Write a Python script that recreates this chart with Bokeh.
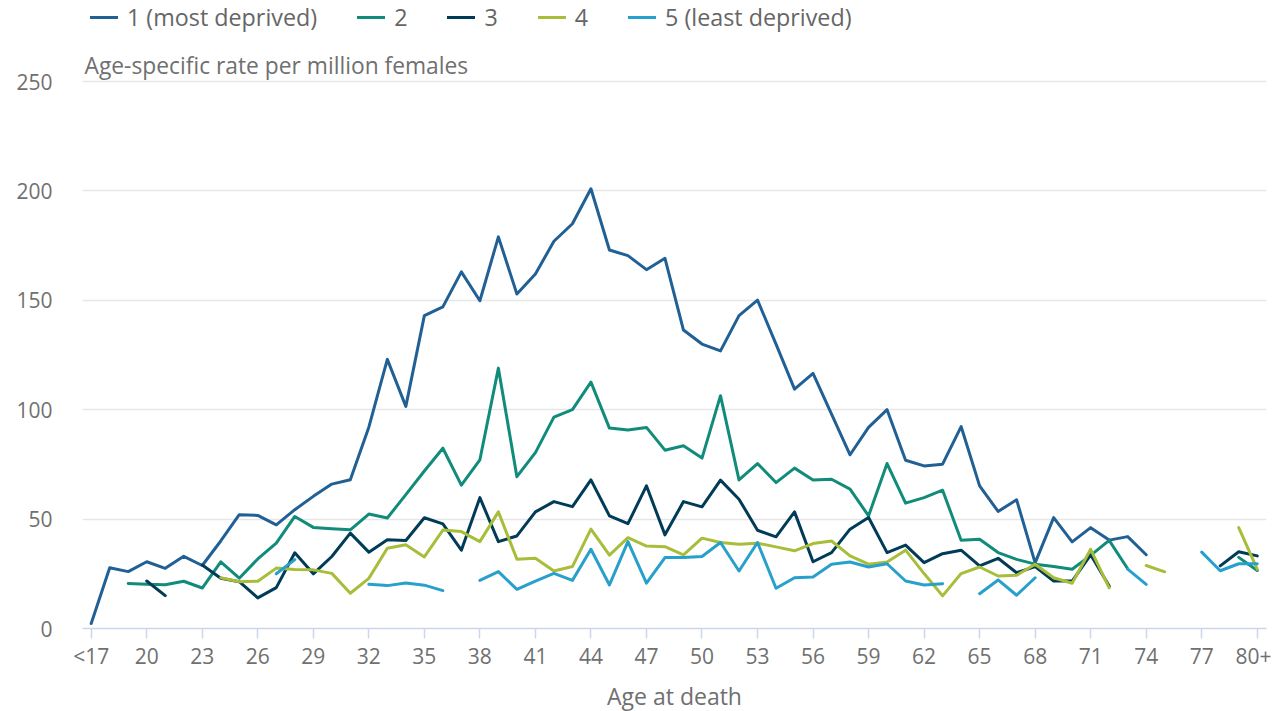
from bokeh.plotting import figure
from bokeh.models import Range1d, FixedTicker, Legend, LegendItem, Label
from bokeh.embed import file_html
from bokeh.resources import INLINE

nan = float("nan")

# Age at death categories
categories = ["<17", "18", "19", "20", "21", "22", "23", "24", "25", "26",
              "27", "28", "29", "30", "31", "32", "33", "34", "35", "36",
              "37", "38", "39", "40", "41", "42", "43", "44", "45", "46",
              "47", "48", "49", "50", "51", "52", "53", "54", "55", "56",
              "57", "58", "59", "60", "61", "62", "63", "64", "65", "66",
              "67", "68", "69", "70", "71", "72", "73", "74", "75", "76",
              "77", "78", "79", "80+"]

tick_labels = ["<17", "20", "23", "26", "29", "32", "35", "38", "41", "44",
               "47", "50", "53", "56", "59", "62", "65", "68", "71", "74",
               "77", "80+"]

y_ticks = [0, 50, 100, 150, 200, 250]

series_names = ["1 (most deprived)", "2", "3", "4", "5 (least deprived)"]
series_colors = ["#206095", "#118c7b", "#003c57", "#a8bd3a", "#27a0cc"]

# Age-specific rate per million females, by deprivation quintile
rate_q1 = [2.3, 27.8, 26.0, 30.5, 27.5, 33.0, 28.8, 40.0, 52.0, 51.7,
           47.4, 54.3, 60.4, 66.0, 68.0, 92.0, 123.0, 101.5, 143.0, 147.0,
           163.0, 149.8, 179.0, 152.9, 162.0, 177.0, 185.0, 201.0, 173.0, 170.4,
           164.0, 169.2, 136.4, 130.0, 126.9, 143.0, 150.1, 130.0, 109.4, 116.6,
           98.0, 79.4, 91.9, 100.0, 76.9, 74.3, 75.1, 92.3, 65.2, 53.5,
           58.8, 30.0, 50.7, 39.6, 46.1, 40.4, 42.0, 33.7, nan, nan,
           nan, nan, nan, nan]

rate_q2 = [nan, nan, 20.6, 20.2, 20.0, 21.6, 18.5, 30.5, 23.0, 31.8,
           39.0, 51.2, 46.2, 45.6, 45.1, 52.3, 50.5, 61.2, 72.0, 82.4,
           65.5, 77.1, 119.0, 69.4, 80.4, 96.6, 100.0, 112.6, 91.6, 90.7,
           91.9, 81.5, 83.5, 77.9, 106.4, 67.9, 75.4, 66.7, 73.3, 67.9,
           68.2, 63.7, 51.5, 75.4, 57.3, 59.8, 63.2, 40.3, 40.8, 34.7,
           31.6, 29.4, 28.3, 27.1, 33.4, 40.3, 27.3, nan, nan, nan,
           nan, nan, 32.5, 26.5]

rate_q3 = [nan, nan, nan, 21.7, 15.0, nan, 29.0, 23.0, 21.4, 14.0,
           18.7, 34.6, 25.0, 32.9, 43.6, 34.9, 40.6, 40.2, 50.6, 47.8,
           35.8, 59.8, 39.7, 42.3, 53.3, 58.0, 55.7, 67.9, 51.5, 47.9,
           65.2, 42.8, 58.0, 55.6, 67.8, 59.1, 44.9, 41.9, 53.3, 30.5,
           34.7, 45.4, 50.7, 34.7, 38.1, 30.1, 34.2, 35.8, 28.6, 32.1,
           25.5, 28.3, 21.7, 21.7, 33.7, 19.4, nan, nan, nan, nan,
           nan, 28.6, 35.1, 33.2]

rate_q4 = [nan, nan, nan, nan, nan, nan, nan, 23.2, 21.4, 21.6,
           27.6, 27.0, 26.8, 25.2, 16.1, 22.9, 36.7, 38.3, 32.7, 45.0,
           44.3, 39.7, 53.3, 31.7, 32.1, 26.3, 28.3, 45.4, 33.5, 41.5,
           37.7, 37.4, 33.6, 41.3, 39.3, 38.5, 39.0, 37.3, 35.5, 38.8,
           40.0, 33.2, 29.4, 30.4, 35.8, 25.1, 14.9, 25.1, 28.1, 24.0,
           24.3, 29.4, 23.2, 20.7, 36.2, 18.6, nan, 28.8, 25.9, nan,
           nan, nan, 46.1, 27.1]

rate_q5 = [nan, nan, nan, nan, nan, nan, nan, nan, nan, nan,
           25.0, 31.5, nan, nan, nan, 20.2, 19.6, 20.8, 19.8, 17.3,
           nan, 22.0, 26.0, 17.9, 21.7, 25.2, 22.0, 36.2, 19.9, 39.7,
           20.7, 32.4, 32.4, 32.9, 39.3, 26.3, 39.3, 18.4, 23.2, 23.5,
           29.4, 30.4, 28.1, 29.6, 21.7, 19.9, 20.5, nan, 15.9, 22.2,
           15.2, 23.2, nan, nan, nan, nan, 27.1, 20.2, nan, nan,
           34.9, 26.4, 29.6, 29.6]

series_values = [rate_q1, rate_q2, rate_q3, rate_q4, rate_q5]

x = list(range(len(categories)))

FONT = "Open Sans"
TEXT = "#707070"

FRAME_H = 628
PX_PER_UNIT = 547 / 250.0

p = figure(frame_width=1184, frame_height=FRAME_H,
           x_range=Range1d(-0.47, len(categories) - 0.5),
           y_range=Range1d(0, FRAME_H / PX_PER_UNIT),
           output_backend="svg", toolbar_location=None, title=None,
           min_border_left=82, min_border_top=0,
           min_border_right=5, min_border_bottom=0)
p.outline_line_color = None
p.background_fill_color = "white"
p.border_fill_color = "white"

items = []
for name, vals, col in zip(series_names, series_values, series_colors):
    r = p.line(x, vals, line_color=col, line_width=3,
               line_join="round", line_cap="round")
    items.append(LegendItem(label=name, renderers=[r]))

legend = Legend(items=items, orientation="horizontal", location=(8, 595),
                label_text_font=FONT, label_text_font_size="23.3px",
                label_text_color="#666666",
                glyph_width=28, glyph_height=24, label_height=24,
                label_width=0,
                label_standoff=9, spacing=40, padding=0, margin=0,
                border_line_color=None, background_fill_alpha=0)
p.add_layout(legend)

# y axis
p.yaxis.ticker = FixedTicker(ticks=y_ticks)
p.yaxis.axis_line_color = None
p.yaxis.major_tick_line_color = None
p.yaxis.minor_tick_line_color = None
p.yaxis.major_label_standoff = 24
p.yaxis.major_label_text_font = FONT
p.yaxis.major_label_text_font_size = "21px"
p.yaxis.major_label_text_color = TEXT
p.ygrid.grid_line_color = "#e6e6e6"
p.ygrid.grid_line_width = 1.5
p.xgrid.grid_line_color = None

# x axis
tick_pos = [categories.index(t) for t in tick_labels]
p.xaxis.ticker = FixedTicker(ticks=tick_pos)
p.xaxis.major_label_overrides = {pos: lab for pos, lab in zip(tick_pos, tick_labels)}
p.xaxis.axis_line_color = "#ccd6eb"
p.xaxis.axis_line_width = 1.5
p.xaxis.major_tick_line_color = "#ccd6eb"
p.xaxis.major_tick_line_width = 1.5
p.xaxis.major_tick_in = 0
p.xaxis.major_tick_out = 10
p.xaxis.minor_tick_line_color = None
p.xaxis.major_label_standoff = 3
p.xaxis.major_label_text_font = FONT
p.xaxis.major_label_text_font_size = "21px"
p.xaxis.major_label_text_color = TEXT
p.xaxis.axis_label = "Age at death"
p.xaxis.axis_label_text_font = FONT
p.xaxis.axis_label_text_font_size = "23px"
p.xaxis.axis_label_text_font_style = "normal"
p.xaxis.axis_label_text_color = TEXT
p.xaxis.axis_label_standoff = 7

ytitle = Label(x=2, y=FRAME_H - 65.3, x_units="screen", y_units="screen",
               text="Age-specific rate per million females",
               text_font=FONT, text_font_size="22.8px", text_color=TEXT,
               text_baseline="alphabetic")
p.add_layout(ytitle)

open("out.html", "w").write(file_html(p, INLINE))
